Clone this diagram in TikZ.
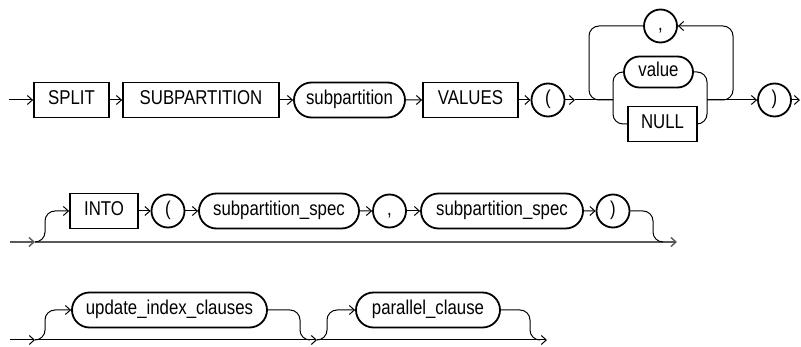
\documentclass[tikz,border=0pt]{standalone}
\usepackage{fontspec}
\setmainfont{Liberation Sans}[FakeStretch=0.84]
\usetikzlibrary{shapes.misc,arrows.meta}
\begin{document}
\begin{tikzpicture}[x=1pt,y=-1pt,
  every node/.style={font=\fontsize{20}{24}\selectfont, text height=14.5pt, text depth=4.5pt, inner sep=0pt},
  kw/.style={draw, line width=1.8pt, rectangle, minimum height=35pt},
  nt/.style={draw, line width=1.8pt, rounded rectangle, minimum height=35pt},
  ch/.style={draw, line width=1.8pt, circle, minimum size=33pt},
  conn/.style={line width=1pt},
  arr/.style={conn, -{Straight Barb[length=5pt,width=9pt]}},
  rc/.style={rounded corners=10pt}]
\useasboundingbox (0,0) rectangle (801,347);

% ---------- row 1 ----------
\node[kw, minimum width=75pt] (split) at (71.5,100) {SPLIT};
\node[kw, minimum width=156pt] (subp) at (201,100) {SUBPARTITION};
\node[nt, minimum width=111pt] (subpn) at (349.5,100) {subpartition};
\node[kw, minimum width=95pt] (values) at (470.5,100) {VALUES};
\node[ch] (lp1) at (548,100) {(};
\node[ch] (comma1) at (660.5,26) {,};
\node[nt, minimum width=69pt, minimum height=31pt] (value) at (658.5,72) {value};
\node[kw, minimum width=69pt] (null) at (662.5,124) {NULL};
\node[ch] (rp1) at (774.5,100) {)};

\coordinate (s1) at (9,100);
\coordinate (j1) at (575,100);
\coordinate (jl) at (613,100);
\coordinate (jr) at (707,100);
\coordinate (e1) at (800,100);

\draw[arr] (s1) -- (split);
\draw[arr] (split) -- (subp);
\draw[arr] (subp) -- (subpn);
\draw[arr] (subpn) -- (values);
\draw[arr] (values) -- (lp1);
\draw[arr] (lp1) -- (j1);
\draw[conn] (j1) -- (jl);
\draw[conn, rc] (value.west) -| (jl) |- (null.west);
\draw[conn, rc] (value.east) -| (jr) |- (null.east);
\draw[arr] (jr) -- (rp1);
\draw[arr] (rp1) -- (e1);
\draw[conn, rc] (comma1.west) -| (589,100) -- (jl);
\draw[arr, rc] (jr) -| (733,26) -- (comma1.east);

% ---------- row 2 ----------
\node[kw, minimum width=68pt] (into) at (104,211) {INTO};
\node[ch] (lp2) at (168,211) {(};
\node[nt, minimum width=160pt] (spec1) at (279,211) {subpartition\_spec};
\node[ch] (comma2) at (389.5,211) {,};
\node[nt, minimum width=162pt] (spec2) at (502,211) {subpartition\_spec};
\node[ch] (rp2) at (613,211) {)};

\coordinate (s2) at (10,242);
\coordinate (b2) at (35,242);
\coordinate (e2) at (677,242);

\draw[arr, line width=1.4pt, gray!70!black] (s2) -- (b2);
\draw[arr, line width=1.4pt, gray!70!black] (b2) -- (e2);
\draw[arr, rc] (b2) -| (45,211) -- (into);
\draw[arr] (into) -- (lp2);
\draw[arr] (lp2) -- (spec1);
\draw[arr] (spec1) -- (comma2);
\draw[arr] (comma2) -- (spec2);
\draw[arr] (spec2) -- (rp2);
\draw[conn, rc] (rp2.east) -| (653,242) -- (663,242);

% ---------- row 3 ----------
\node[nt, minimum width=195pt] (upd) at (169.5,310) {update\_index\_clauses};
\node[nt, minimum width=144pt] (par) at (428,310) {parallel\_clause};

\coordinate (s3) at (10,340);
\coordinate (b3a) at (35,340);
\coordinate (b3b) at (317,340);
\coordinate (e3) at (547,340);

\draw[arr] (s3) -- (b3a);
\draw[arr] (b3a) -- (b3b);
\draw[arr] (b3b) -- (e3);
\draw[arr, rc] (b3a) -| (45,310) -- (upd);
\draw[conn, rc] (upd.east) -| (300,340) -- (310,340);
\draw[arr, rc] (b3b) -| (327,310) -- (par);
\draw[conn, rc] (par.east) -| (530,340) -- (540,340);
\end{tikzpicture}
\end{document}
